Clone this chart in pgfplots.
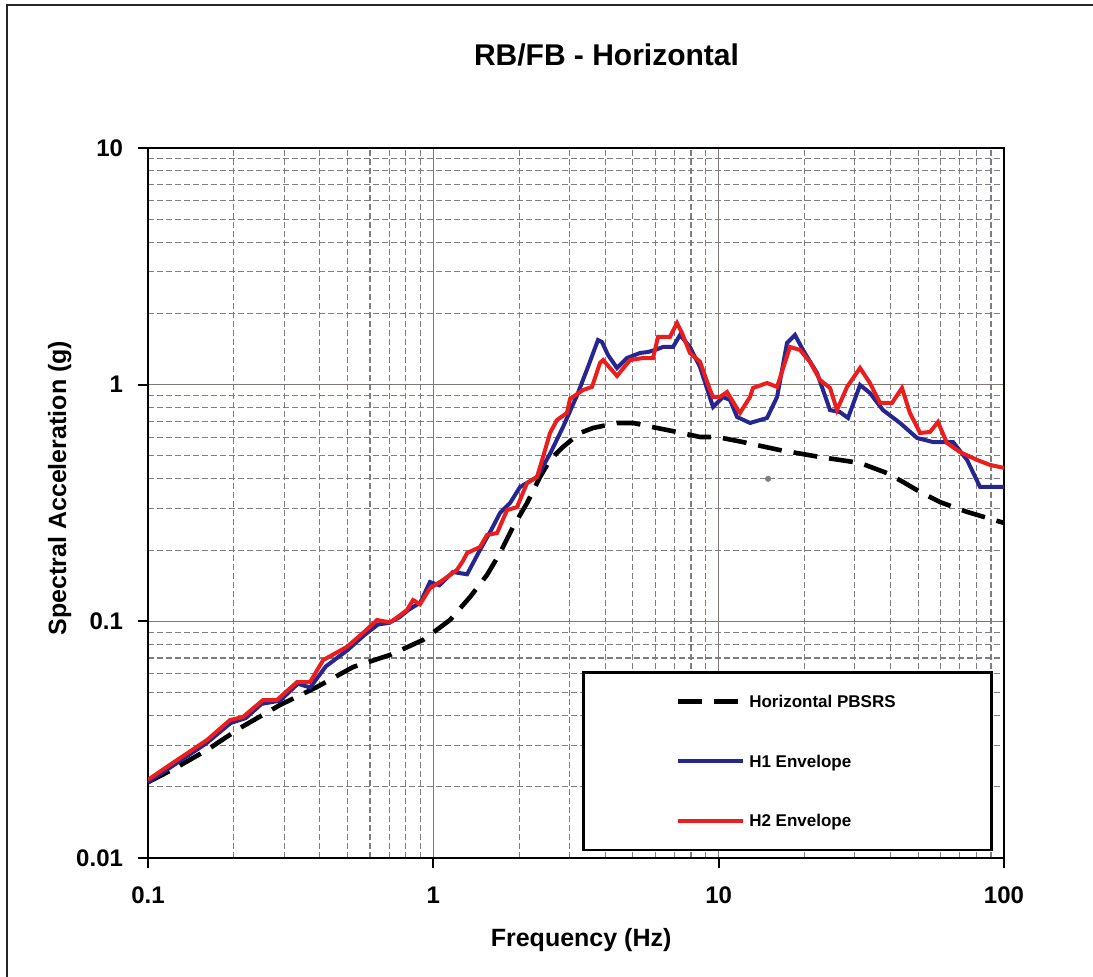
\documentclass[border=0pt]{standalone}
\usepackage{pgfplots}
\pgfplotsset{compat=1.18}
\usepackage{fontspec}
\setmainfont{Liberation Sans}

\definecolor{h1blue}{RGB}{38,38,145}
\definecolor{h2red}{RGB}{235,30,30}
\definecolor{majgrid}{RGB}{130,120,115}
\definecolor{mingrid}{RGB}{125,125,130}

\begin{document}
\begin{tikzpicture}
\begin{axis}[
 at={(74pt,59.5pt)}, anchor=south west,
 scale only axis, width=428pt, height=355pt,
 xmode=log, ymode=log,
 xmin=0.1, xmax=100, ymin=0.01, ymax=10,
 xtick={0.1,1,10,100}, xticklabels={0.1,1,10,100},
 ytick={0.01,0.1,1,10}, yticklabels={0.01,0.1,1,10},
 xtick pos=bottom, ytick pos=left, tick align=outside,
 major tick length=5pt, minor tick length=0pt,
 tick style={black, line width=1pt},
 grid=both,
 major grid style={majgrid, line width=0.8pt},
 minor grid style={mingrid, line width=0.55pt, dash pattern=on 3pt off 1.5pt},
 axis line style={black, line width=1pt},
 ticklabel style={font=\fontsize{12}{14}\selectfont\bfseries},
 xticklabel style={yshift=-6pt},
 yticklabel style={xshift=-4pt},
 xlabel={Frequency (Hz)}, ylabel={Spectral Acceleration (g)},
 label style={font=\fontsize{12.5}{15}\selectfont\bfseries},
 xlabel style={at={(axis description cs:0.506,-0.1155)}, anchor=center},
 ylabel style={at={(axis description cs:-0.103,0.521)}, anchor=center},
 legend style={at={(rel axis cs:0.987,0.0099)}, anchor=south east, draw=black, line width=1.2pt, fill=white,
   inner xsep=46pt, inner ysep=7.6pt, row sep=16.0pt,
   font=\fontsize{8.5}{10}\selectfont\bfseries,
   nodes={text height=8pt, text depth=1.8pt}},
 legend cell align=left,
 legend image code/.code={\draw[#1] (0pt,0pt) -- (32.5pt,0pt);},
]
\addplot[black, line width=2.3pt, dash pattern=on 12pt off 6pt] coordinates {
(0.1,0.0209)(0.1264,0.0242)(0.161,0.0286)(0.21,0.0354)(0.29,0.0443)(0.391,0.0528)(0.523,0.0641)(0.705,0.0721)(0.92,0.0834)(0.973,0.0876)(1.144,0.1013)(1.345,0.1267)(1.542,0.157)(1.713,0.1944)(1.902,0.2504)(2.13,0.316)(2.365,0.407)(2.564,0.481)(2.848,0.5455)(3.266,0.625)(3.626,0.656)(4.402,0.689)(5.01,0.689)(6.08,0.656)(7.145,0.631)(8.6,0.601)(9.87,0.601)(12.17,0.572)(16.4,0.529)(22.66,0.4946)(31.3,0.4667)(38.9,0.423)(44.3,0.388)(50.8,0.352)(59.7,0.319)(74.2,0.29)(100,0.2604)
};
\addlegendentry{Horizontal PBSRS}
\addplot[h1blue, line width=2pt] coordinates {
(0.1,0.0209)(0.122,0.0245)(0.16,0.0305)(0.195,0.0372)(0.22,0.039)(0.25,0.0448)(0.29,0.0462)(0.335,0.0545)(0.37,0.0525)(0.42,0.0645)(0.5,0.0755)(0.57,0.087)(0.64,0.097)(0.7,0.0985)(0.76,0.104)(0.82,0.112)(0.9,0.12)(0.973,0.1466)(1.05,0.142)(1.172,0.1616)(1.313,0.158)(1.457,0.2002)(1.6,0.245)(1.713,0.287)(1.857,0.316)(2.013,0.3695)(2.308,0.407)(2.564,0.51)(2.848,0.6624)(3.188,0.9)(3.484,1.188)(3.776,1.544)(3.9,1.514)(4.094,1.335)(4.402,1.176)(4.772,1.296)(5.3,1.361)(5.65,1.374)(5.98,1.401)(6.38,1.443)(6.92,1.443)(7.32,1.621)(7.93,1.443)(8.6,1.188)(9.555,0.805)(10.36,0.887)(10.96,0.861)(11.6,0.73)(12.88,0.689)(14.77,0.723)(16.02,0.887)(17.36,1.5)(18.52,1.621)(19.75,1.401)(22.12,1.12)(24.56,0.781)(26.6,0.766)(28.4,0.723)(31.3,0.997)(33.9,0.922)(37.66,0.781)(43.2,0.689)(49.6,0.595)(56.4,0.572)(66.3,0.572)(74.2,0.481)(82.4,0.3695)(100,0.3695)
};
\addlegendentry{H1 Envelope}
\addplot[h2red, line width=2pt] coordinates {
(0.1,0.0214)(0.122,0.0252)(0.161,0.0315)(0.194,0.0383)(0.215,0.0394)(0.253,0.0465)(0.283,0.0465)(0.333,0.0554)(0.37,0.0554)(0.411,0.0686)(0.498,0.078)(0.567,0.0893)(0.635,0.1013)(0.705,0.099)(0.764,0.106)(0.808,0.1116)(0.849,0.123)(0.898,0.118)(0.973,0.138)(1.081,0.1495)(1.21,0.165)(1.27,0.18)(1.313,0.1944)(1.457,0.206)(1.542,0.2316)(1.672,0.236)(1.813,0.295)(1.965,0.304)(2.13,0.384)(2.308,0.407)(2.424,0.495)(2.564,0.625)(2.713,0.709)(2.94,0.76)(3.013,0.87)(3.346,0.949)(3.598,0.978)(3.838,1.235)(3.935,1.27)(4.402,1.088)(4.89,1.27)(5.43,1.296)(5.89,1.296)(6.13,1.59)(6.75,1.59)(7.145,1.822)(7.44,1.653)(7.93,1.361)(8.6,1.25)(9.33,0.949)(9.555,0.887)(10.11,0.887)(10.7,0.931)(11.69,0.781)(11.88,0.76)(12.88,0.887)(13.19,0.968)(14.77,1.016)(16.02,0.978)(17.78,1.443)(19.28,1.401)(20.9,1.247)(22.66,1.046)(24.56,0.968)(25.98,0.781)(28.17,0.978)(31.3,1.176)(33.9,1.016)(36.77,0.837)(40.5,0.837)(43.9,0.968)(46.8,0.759)(50.8,0.625)(55.05,0.631)(58.7,0.695)(63.1,0.567)(70.1,0.519)(80.4,0.481)(89.3,0.458)(100,0.445)
};
\addlegendentry{H2 Envelope}
\addplot[only marks, mark=*, mark size=1.3pt, gray, forget plot] coordinates {(14.9,0.4)};
\end{axis}
\node[font=\fontsize{15}{18}\selectfont\bfseries] at (303.25pt,461pt) {RB/FB - Horizontal};
\draw[line width=1pt, black!85] (3.5pt,0pt) -- (3.5pt,486pt) -- (546.5pt,486pt);
\pgfresetboundingbox
\path[use as bounding box] (0pt,0pt) rectangle (546.5pt,488.5pt);
\end{tikzpicture}
\end{document}
